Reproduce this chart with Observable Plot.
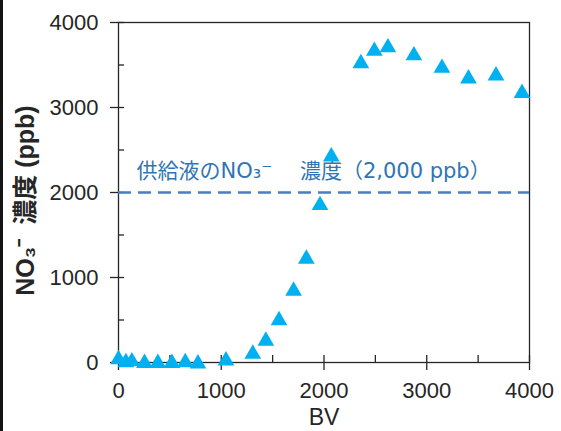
<!DOCTYPE html>
<html>
<head>
<meta charset="utf-8">
<script src="https://cdn.jsdelivr.net/npm/d3@7"></script>
<script src="https://cdn.jsdelivr.net/npm/@observablehq/plot@0.6"></script>
<style>
  html, body { margin: 0; padding: 0; background: #fff; }
  #chart { position: relative; width: 561px; height: 431px; }
  #chart::before { content: ""; position: absolute; left: 0; top: 0; width: 3px; height: 100%; background: #141414; z-index: 2; }
  #chart svg { display: block; }
</style>
</head>
<body>
<div id="chart"></div>
<script>
// Bed volumes passed and the NO3- concentration measured in the effluent
const bv  = [0, 72, 130, 253, 383, 520, 650, 773, 1046, 1307, 1434, 1562, 1704, 1828, 1961, 2071, 2359, 2490, 2622, 2875, 3148, 3406, 3674, 3927];
const no3 = [60, 25, 35, 15, 15, 15, 25, 10, 45, 124, 277, 518, 866, 1243, 1873, 2445, 3541, 3688, 3729, 3635, 3488, 3364, 3399, 3193];

// Feed solution concentration (reference line)
const feedLevel = [2000];
const feedLabel = "供給液のNO₃⁻　 濃度（2,000 ppb）";

// Axis ticks
const xTicks = [0, 1000, 2000, 3000, 4000];
const xMinor = [500, 1500, 2500, 3500];
const yTicks = [0, 1000, 2000, 3000, 4000];
const yMinor = [500, 1500, 2500, 3500];

const xTitle = "BV";
const yTitle = "NO₃⁻  濃度 (ppb)";

const points = bv.map((b, i) => ({bv: b, no3: no3[i]}));

const width = 561, height = 431;
const margin = {top: 22, right: 32, bottom: 69, left: 118};
const innerW = width - margin.left - margin.right;
const innerH = height - margin.top - margin.bottom;

const axisFont = "'Liberation Sans', Arial, 'Noto Sans CJK JP', sans-serif";
const plain = d3.format("d");

const chart = Plot.plot({
  width, height,
  marginTop: margin.top, marginRight: margin.right,
  marginBottom: margin.bottom, marginLeft: margin.left,
  style: {background: "transparent", fontFamily: axisFont, fontSize: "22px", color: "#262626"},
  x: {domain: [0, 4000]},
  y: {domain: [0, 4000]},
  marks: [
    Plot.frame({stroke: "#262626", strokeWidth: 1.3}),
    // inward half of the major ticks and the minor ticks
    Plot.tickX(xTicks.concat(xMinor), {x: d => d, stroke: "#262626", strokeWidth: 1.3, insetTop: innerH - 7}),
    Plot.tickY(yTicks.concat(yMinor), {y: d => d, stroke: "#262626", strokeWidth: 1.3, insetRight: innerW - 6}),
    Plot.axisX({ticks: xTicks, tickFormat: plain, tickSize: 8, tickPadding: 12, label: null, strokeWidth: 1.3, fontSize: 22}),
    Plot.axisY({ticks: yTicks, tickFormat: plain, tickSize: 8, tickPadding: 12, label: null, strokeWidth: 1.3, fontSize: 22}),
    // feed concentration
    Plot.ruleY(feedLevel, {y: d => d, stroke: "#4a7ebf", strokeWidth: 2.5, strokeDasharray: "13,7"}),
    Plot.text(feedLevel, {
      x: 0, y: d => d, text: () => feedLabel,
      textAnchor: "start", lineAnchor: "bottom", dx: 18, dy: -15,
      fill: "#2f75b5", fontSize: 21,
      fontFamily: "'DejaVu Sans', 'Noto Sans CJK JP', sans-serif"
    }),
    Plot.dot(points, {x: "bv", y: "no3", symbol: "triangle", r: 6.2, fill: "#00b0f0", stroke: null, dy: 2}),
    // axis titles
    Plot.text([xTitle], {text: d => d, frameAnchor: "bottom", lineAnchor: "middle", dy: 55, fontSize: 23, fill: "#262626"}),
    Plot.text([yTitle], {text: d => d, frameAnchor: "left", rotate: -90, textAnchor: "middle", lineAnchor: "middle", dx: -93, dy: 8, fontSize: 25, fontWeight: "bold", fill: "#262626"})
  ]
});

document.getElementById("chart").appendChild(chart);
</script>
</body>
</html>
